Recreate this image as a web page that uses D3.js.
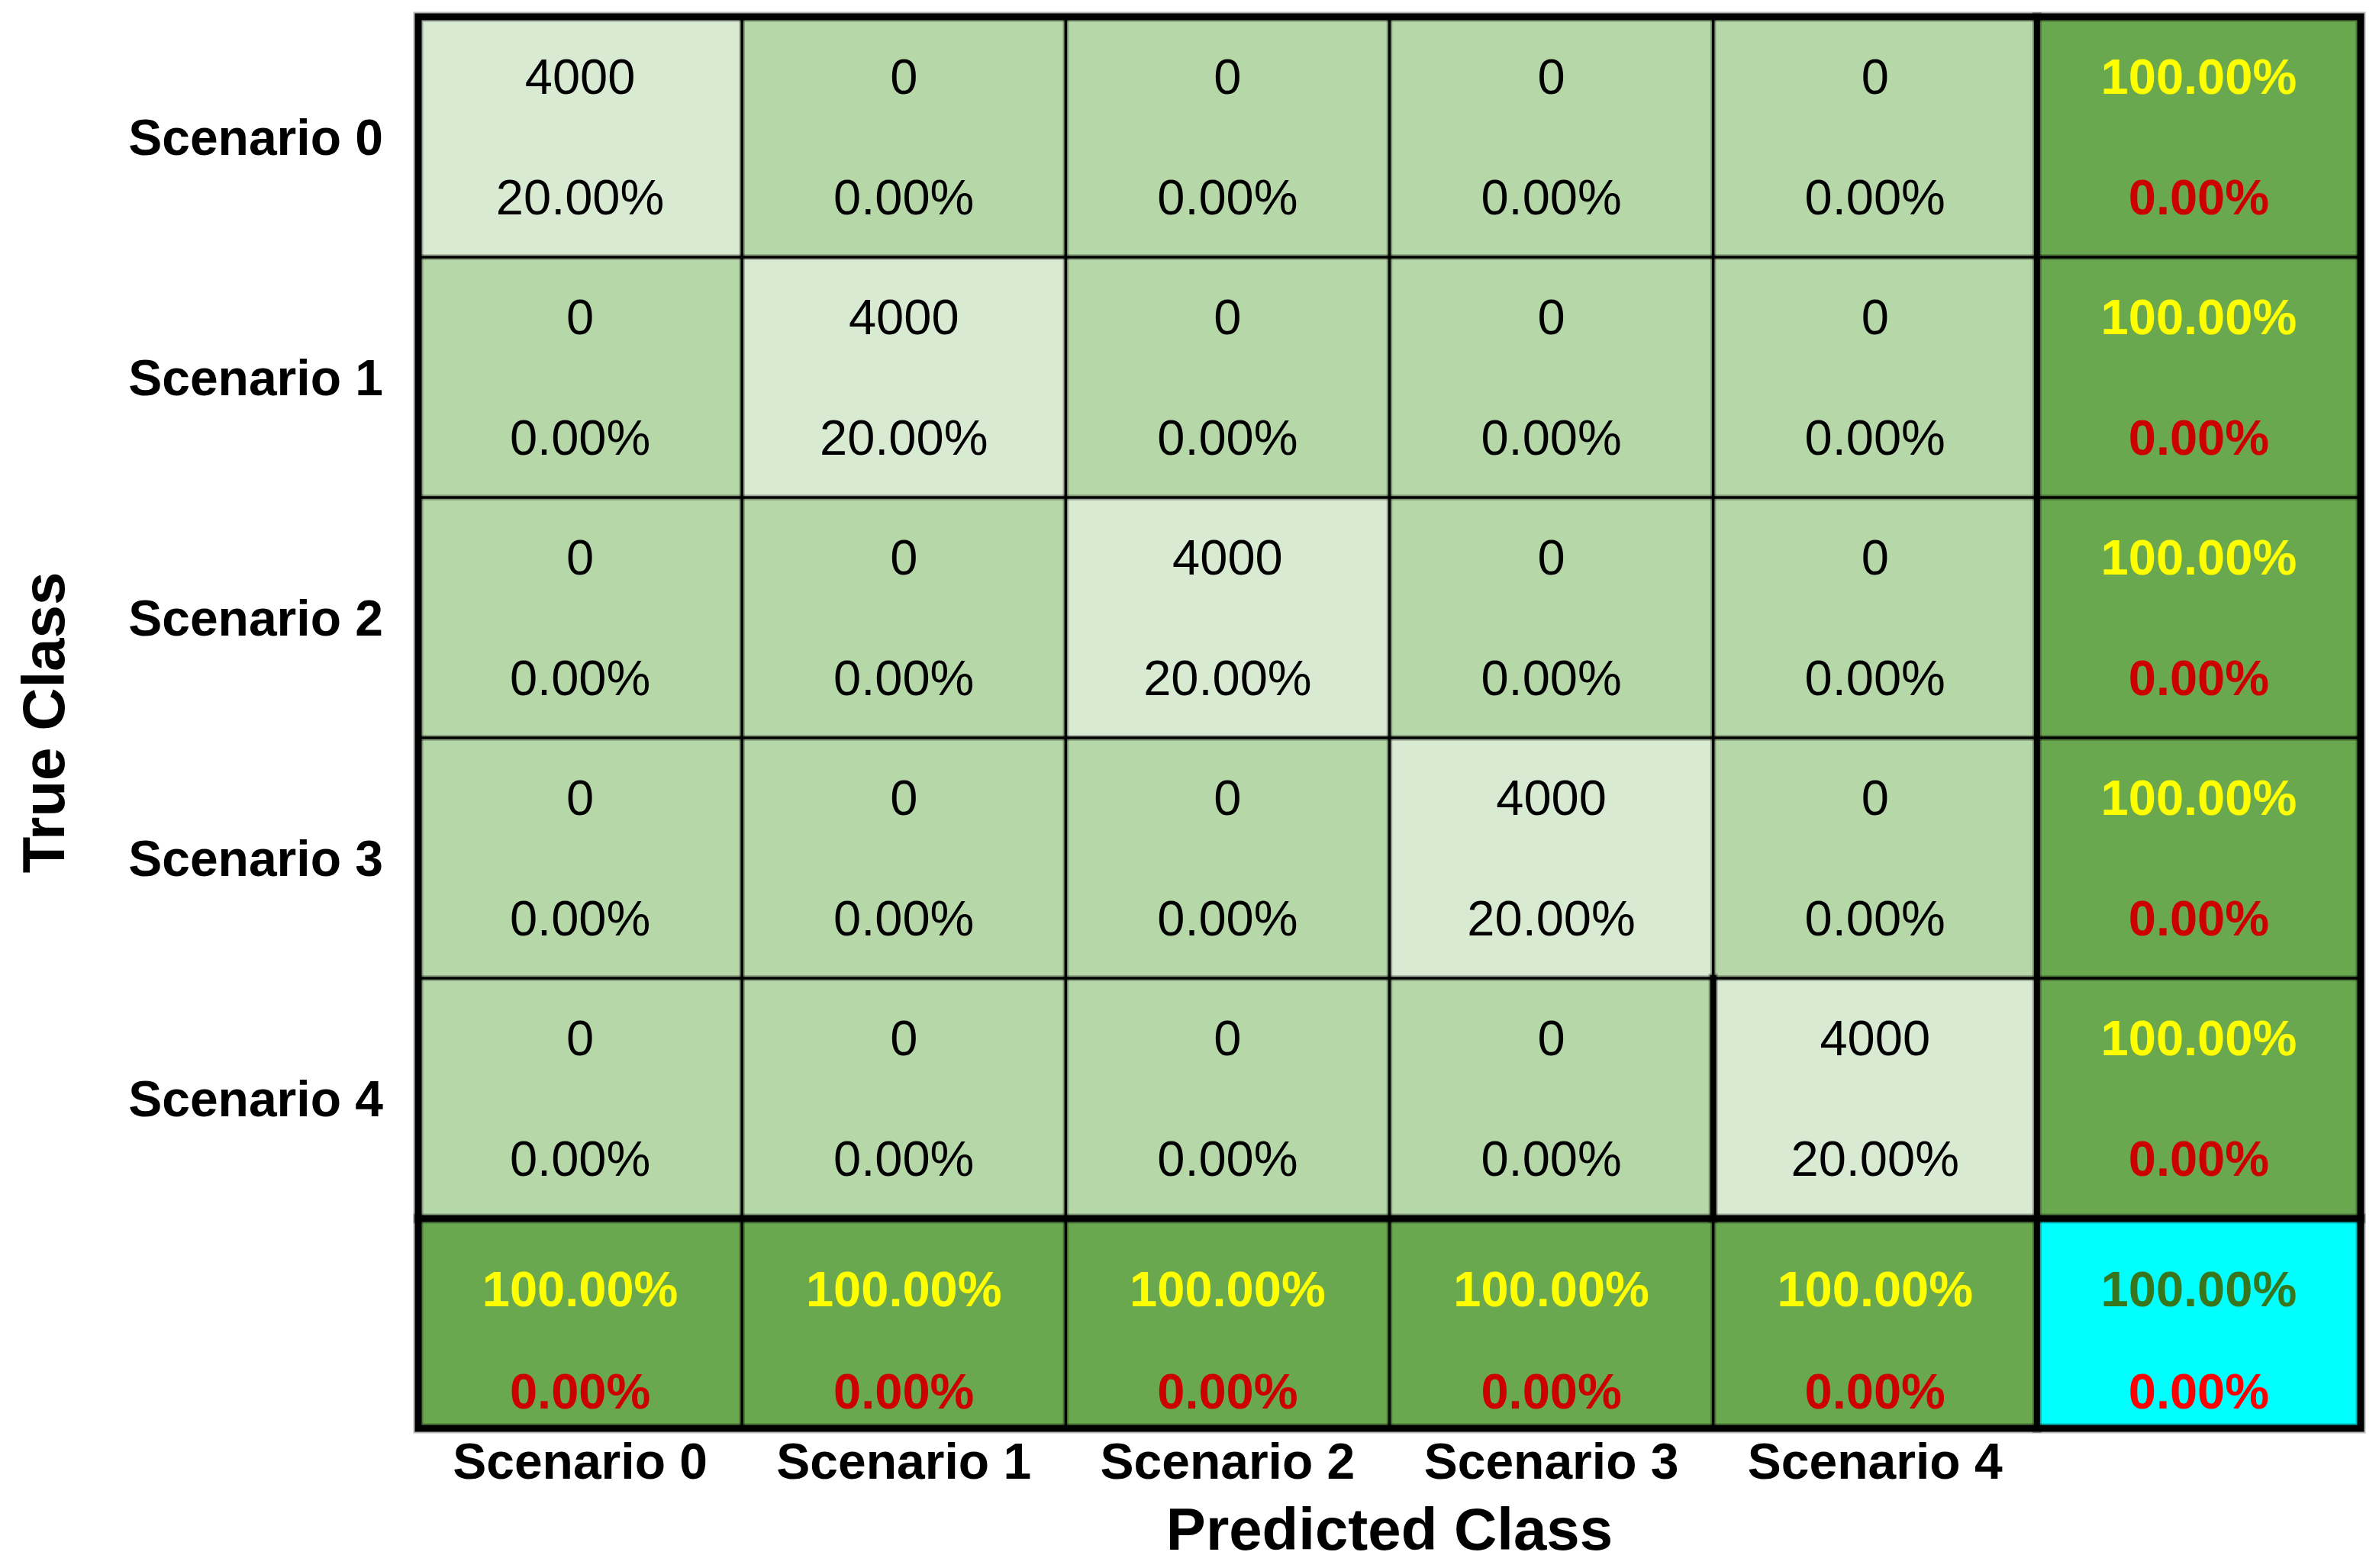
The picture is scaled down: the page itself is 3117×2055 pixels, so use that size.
<!DOCTYPE html>
<html>
<head>
<meta charset="utf-8">
<script src="https://cdn.jsdelivr.net/npm/d3@7"></script>
<style>
  body { margin: 0; background: #fff; }
  svg text { font-family: "Liberation Sans", Arial, sans-serif; }
</style>
</head>
<body>
<svg id="chart" width="3117" height="2055"></svg>
<script>
// data
const classes = ["Scenario 0", "Scenario 1", "Scenario 2", "Scenario 3", "Scenario 4"];
const counts = [
  [4000, 0, 0, 0, 0],
  [0, 4000, 0, 0, 0],
  [0, 0, 4000, 0, 0],
  [0, 0, 0, 4000, 0],
  [0, 0, 0, 0, 4000]
];
const rowGood = ["100.00%", "100.00%", "100.00%", "100.00%", "100.00%"];
const rowBad = ["0.00%", "0.00%", "0.00%", "0.00%", "0.00%"];
const colGood = ["100.00%", "100.00%", "100.00%", "100.00%", "100.00%"];
const colBad = ["0.00%", "0.00%", "0.00%", "0.00%", "0.00%"];
const totalGood = "100.00%";
const totalBad = "0.00%";

const total = d3.sum(counts, r => d3.sum(r));
const fmtPct = v => (v / total * 100).toFixed(2) + "%";

const svg = d3.select("#chart");

const mLeft = 548, mRight = 3093, mTop = 22, gridBottom = 1597, mBottom = 1872;
const cols = classes.concat(["summary"]);
const x = d3.scaleBand().domain(cols).range([mLeft, mRight]);
const y = d3.scaleBand().domain(classes).range([mTop, gridBottom]);
const sumH = mBottom - gridBottom;

const diagColor = "#d9ead3", offColor = "#b6d7a8", sumColor = "#6aa84f", cornerColor = "#00ffff";

// main cells
const cells = [];
counts.forEach((row, i) => row.forEach((v, j) => cells.push({ i, j, v })));

const g = svg.append("g");
g.selectAll("rect.cell").data(cells).enter().append("rect")
  .attr("x", d => x(classes[d.j])).attr("y", d => y(classes[d.i]))
  .attr("width", x.bandwidth()).attr("height", y.bandwidth())
  .attr("fill", d => d.i === d.j ? diagColor : offColor);

g.selectAll("text.count").data(cells).enter().append("text")
  .attr("x", d => x(classes[d.j]) + x.bandwidth() / 2)
  .attr("y", d => y(classes[d.i]) + y.bandwidth() * 0.25)
  .attr("text-anchor", "middle").attr("dominant-baseline", "central")
  .attr("font-size", 65).attr("fill", "#000")
  .text(d => d.v);

g.selectAll("text.pct").data(cells).enter().append("text")
  .attr("x", d => x(classes[d.j]) + x.bandwidth() / 2)
  .attr("y", d => y(classes[d.i]) + y.bandwidth() * 0.75)
  .attr("text-anchor", "middle").attr("dominant-baseline", "central")
  .attr("font-size", 65).attr("fill", "#000")
  .text(d => fmtPct(d.v));

// right summary column
classes.forEach((c, i) => {
  g.append("rect").attr("x", x("summary")).attr("y", y(c))
    .attr("width", x.bandwidth()).attr("height", y.bandwidth()).attr("fill", sumColor);
  g.append("text").attr("x", x("summary") + x.bandwidth() / 2).attr("y", y(c) + y.bandwidth() * 0.25)
    .attr("text-anchor", "middle").attr("dominant-baseline", "central")
    .attr("font-size", 65).attr("font-weight", "bold").attr("fill", "#ffff00").text(rowGood[i]);
  g.append("text").attr("x", x("summary") + x.bandwidth() / 2).attr("y", y(c) + y.bandwidth() * 0.75)
    .attr("text-anchor", "middle").attr("dominant-baseline", "central")
    .attr("font-size", 65).attr("font-weight", "bold").attr("fill", "#cc0000").text(rowBad[i]);
});

// bottom summary row
cols.forEach((c, j) => {
  const corner = c === "summary";
  g.append("rect").attr("x", x(c)).attr("y", gridBottom)
    .attr("width", x.bandwidth()).attr("height", sumH).attr("fill", corner ? cornerColor : sumColor);
  g.append("text").attr("x", x(c) + x.bandwidth() / 2).attr("y", gridBottom + sumH * 0.335)
    .attr("text-anchor", "middle").attr("dominant-baseline", "central")
    .attr("font-size", 65).attr("font-weight", "bold").attr("fill", corner ? "#38761d" : "#ffff00")
    .text(corner ? totalGood : colGood[j]);
  g.append("text").attr("x", x(c) + x.bandwidth() / 2).attr("y", gridBottom + sumH * 0.825)
    .attr("text-anchor", "middle").attr("dominant-baseline", "central")
    .attr("font-size", 65).attr("font-weight", "bold").attr("fill", corner ? "#ff0000" : "#cc0000")
    .text(corner ? totalBad : colBad[j]);
});

// grid lines
const lines = [];
classes.slice(1).forEach(c => lines.push({ x1: x(c), y1: mTop, x2: x(c), y2: mBottom, w: 3.5 }));
classes.slice(1).forEach(c => lines.push({ x1: mLeft, y1: y(c), x2: mRight, y2: y(c), w: 3.5 }));
lines.push({ x1: x("Scenario 4"), y1: y("Scenario 4"), x2: x("Scenario 4"), y2: gridBottom, w: 8 });
lines.push({ x1: x("summary"), y1: mTop, x2: x("summary"), y2: mBottom, w: 8 });
lines.push({ x1: mLeft, y1: gridBottom, x2: mRight, y2: gridBottom, w: 9 });

const lg = svg.append("g").attr("stroke-linecap", "square");
lg.selectAll("line.halo").data(lines).enter().append("line")
  .attr("x1", d => d.x1).attr("y1", d => d.y1).attr("x2", d => d.x2).attr("y2", d => d.y2)
  .attr("stroke", "#000").attr("stroke-opacity", 0.28).attr("stroke-width", d => d.w + 4);
lg.selectAll("line.grid").data(lines).enter().append("line")
  .attr("x1", d => d.x1).attr("y1", d => d.y1).attr("x2", d => d.x2).attr("y2", d => d.y2)
  .attr("stroke", "#000").attr("stroke-width", d => d.w);

// outer border
svg.append("rect").attr("x", mLeft).attr("y", mTop).attr("width", mRight - mLeft).attr("height", mBottom - mTop)
  .attr("fill", "none").attr("stroke", "#000").attr("stroke-opacity", 0.28).attr("stroke-width", 13);
svg.append("rect").attr("x", mLeft).attr("y", mTop).attr("width", mRight - mLeft).attr("height", mBottom - mTop)
  .attr("fill", "none").attr("stroke", "#000").attr("stroke-width", 9);

// row labels
svg.selectAll("text.rowlab").data(classes).enter().append("text")
  .attr("x", 502).attr("y", d => y(d) + y.bandwidth() / 2)
  .attr("text-anchor", "end").attr("dominant-baseline", "central")
  .attr("font-size", 66).attr("font-weight", "bold").attr("fill", "#000")
  .text(d => d);

// column labels
svg.selectAll("text.collab").data(classes).enter().append("text")
  .attr("x", d => x(d) + x.bandwidth() / 2).attr("y", 1938)
  .attr("text-anchor", "middle")
  .attr("font-size", 66).attr("font-weight", "bold").attr("fill", "#000")
  .text(d => d);

// axis titles
svg.append("text").attr("x", (mLeft + mRight) / 2).attr("y", 2031)
  .attr("text-anchor", "middle").attr("font-size", 78).attr("font-weight", "bold")
  .text("Predicted Class");
svg.append("text").attr("transform", `translate(84,${(mTop + mBottom) / 2}) rotate(-90)`)
  .attr("text-anchor", "middle").attr("font-size", 78).attr("font-weight", "bold")
  .text("True Class");
</script>
</body>
</html>
